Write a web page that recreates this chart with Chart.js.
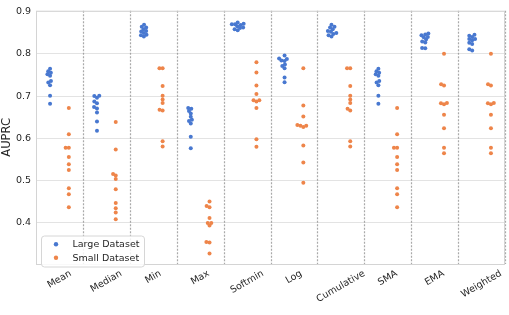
<!DOCTYPE html>
<html lang="en">
<head>
    <meta charset="UTF-8">
    <title>AUPRC swarm</title>
    <script src="https://cdn.jsdelivr.net/npm/chart.js"></script>
    <style>
        body { margin: 0; background: #fff; }
        #wrap { width: 509px; height: 315px; position: relative; }
    </style>
</head>
<body>
    <div id="wrap"><canvas id="chart"></canvas></div>

    <script>
        const categories = ['Mean', 'Median', 'Min', 'Max', 'Softmin', 'Log', 'Cumulative', 'SMA', 'EMA', 'Weighted'];
        const seriesNames = ['Large Dataset', 'Small Dataset'];
        const yTicks = [0.4, 0.5, 0.6, 0.7, 0.8, 0.9];

        // values, one inner array per category
        const largeValues = [
            [0.765, 0.759, 0.755, 0.752, 0.748, 0.736, 0.732, 0.726, 0.701, 0.682],
            [0.701, 0.700, 0.696, 0.687, 0.683, 0.674, 0.671, 0.661, 0.640, 0.618],
            [0.869, 0.864, 0.862, 0.858, 0.854, 0.853, 0.849, 0.845, 0.844, 0.841],
            [0.672, 0.670, 0.665, 0.659, 0.651, 0.644, 0.641, 0.635, 0.604, 0.577],
            [0.874, 0.871, 0.870, 0.870, 0.868, 0.865, 0.862, 0.861, 0.858, 0.856],
            [0.796, 0.789, 0.788, 0.784, 0.783, 0.775, 0.771, 0.766, 0.744, 0.733],
            [0.869, 0.864, 0.862, 0.858, 0.854, 0.852, 0.849, 0.847, 0.844, 0.841],
            [0.765, 0.759, 0.755, 0.752, 0.748, 0.736, 0.732, 0.726, 0.701, 0.682],
            [0.848, 0.846, 0.844, 0.840, 0.839, 0.834, 0.829, 0.827, 0.814, 0.813],
            [0.845, 0.843, 0.840, 0.835, 0.835, 0.832, 0.826, 0.823, 0.811, 0.808]
        ];
        const smallValues = [
            [0.672, 0.610, 0.578, 0.578, 0.556, 0.539, 0.525, 0.482, 0.468, 0.437],
            [0.639, 0.574, 0.516, 0.512, 0.504, 0.480, 0.447, 0.435, 0.425, 0.409],
            [0.766, 0.766, 0.724, 0.701, 0.692, 0.684, 0.668, 0.666, 0.593, 0.581],
            [0.451, 0.440, 0.437, 0.412, 0.400, 0.400, 0.394, 0.355, 0.354, 0.328],
            [0.780, 0.756, 0.725, 0.705, 0.690, 0.690, 0.687, 0.672, 0.598, 0.580],
            [0.766, 0.678, 0.652, 0.632, 0.630, 0.630, 0.627, 0.583, 0.543, 0.495],
            [0.766, 0.766, 0.724, 0.701, 0.692, 0.684, 0.670, 0.666, 0.593, 0.581],
            [0.672, 0.610, 0.578, 0.578, 0.556, 0.539, 0.525, 0.482, 0.468, 0.437],
            [0.800, 0.728, 0.725, 0.684, 0.683, 0.681, 0.656, 0.624, 0.578, 0.565],
            [0.800, 0.728, 0.725, 0.684, 0.683, 0.681, 0.656, 0.624, 0.578, 0.565]
        ];

        const colors = ['#4878d0', '#ee854a'];
        const FONT = "'DejaVu Sans', sans-serif";

        // beeswarm layout: pixels per unit on each axis, dot spacing in px
        const pxPerY = 443, pxPerCat = 47.1, dotGap = 3.2;

        function swarm(values, center) {
            const placed = [];
            values.slice().sort((a, b) => a - b).forEach(v => {
                const py = v * pxPerY;
                const cands = [0];
                placed.forEach(p => {
                    const dy = Math.abs(p.py - py);
                    if (dy < dotGap) {
                        const off = Math.sqrt(dotGap * dotGap - dy * dy);
                        cands.push(p.px - off, p.px + off);
                    }
                });
                cands.sort((a, b) => Math.abs(a) - Math.abs(b));
                const px = cands.find(c => placed.every(p =>
                    (p.px - c) ** 2 + (p.py - py) ** 2 >= dotGap * dotGap - 1e-6));
                placed.push({ px: px, py: py, v: v });
            });
            return placed.map(p => ({ x: center + p.px / pxPerCat, y: p.v }));
        }

        function buildPoints(allValues, dodge) {
            let pts = [];
            allValues.forEach((vals, i) => { pts = pts.concat(swarm(vals, i + dodge)); });
            return pts;
        }

        const extras = {
            id: 'extras',
            beforeDatasetsDraw(chart) {
                const { ctx, chartArea: a, scales: { x } } = chart;
                ctx.save();
                ctx.strokeStyle = 'rgba(140,140,140,0.75)';
                ctx.lineWidth = 1.2;
                ctx.setLineDash([2, 1.5]);
                for (let i = 0; i < categories.length; i++) {
                    const px = Math.round(x.getPixelForValue(i + 0.5)) + 0.5;
                    ctx.beginPath();
                    ctx.moveTo(px, a.top);
                    ctx.lineTo(px, a.bottom);
                    ctx.stroke();
                }
                ctx.setLineDash([]);
                ctx.strokeStyle = '#d4d4d4';
                ctx.lineWidth = 1;
                ctx.strokeRect(a.left + 0.5, a.top + 0.5, a.right - a.left - 1, a.bottom - a.top);
                ctx.restore();
            },
            afterDraw(chart) {
                const { ctx, chartArea: a, scales: { x } } = chart;
                ctx.save();
                // rotated category labels, centred under each slot
                ctx.font = '9.5px ' + FONT;
                ctx.fillStyle = '#262626';
                ctx.textAlign = 'center';
                ctx.textBaseline = 'middle';
                const ang = 30 * Math.PI / 180;
                categories.forEach((c, i) => {
                    const w = ctx.measureText(c).width;
                    const h = w * Math.sin(ang) + 9 * Math.cos(ang);
                    ctx.save();
                    ctx.translate(x.getPixelForValue(i), a.bottom + 5 + h / 2);
                    ctx.rotate(-ang);
                    ctx.fillText(c, 0, 0);
                    ctx.restore();
                });

                // legend box in the lower left corner
                const lx = 41.5, ly = 236, lw = 103, lh = 31;
                ctx.beginPath();
                ctx.roundRect(lx, ly, lw, lh, 3);
                ctx.fillStyle = 'rgba(255,255,255,0.85)';
                ctx.fill();
                ctx.strokeStyle = '#d6d6d6';
                ctx.lineWidth = 1;
                ctx.stroke();
                seriesNames.forEach((name, i) => {
                    const yy = ly + 8.3 + i * 13.4;
                    ctx.beginPath();
                    ctx.arc(lx + 14.5, yy, 2.2, 0, Math.PI * 2);
                    ctx.fillStyle = colors[i];
                    ctx.fill();
                    ctx.fillStyle = '#262626';
                    ctx.textAlign = 'left';
                    ctx.fillText(name, lx + 31, yy + 0.5);
                });
                ctx.restore();
            }
        };

        new Chart(document.getElementById('chart'), {
            type: 'scatter',
            data: {
                datasets: [
                    { label: seriesNames[0], data: buildPoints(largeValues, -0.2), backgroundColor: colors[0], borderWidth: 0, pointRadius: 2 },
                    { label: seriesNames[1], data: buildPoints(smallValues, 0.2), backgroundColor: colors[1], borderWidth: 0, pointRadius: 2 }
                ]
            },
            options: {
                responsive: true,
                maintainAspectRatio: false,
                animation: false,
                layout: { padding: { top: 5, right: 2, bottom: 43, left: 0 } },
                plugins: { legend: { display: false }, tooltip: { enabled: false } },
                scales: {
                    x: {
                        type: 'linear', min: -0.5, max: 9.5,
                        grid: { display: false },
                        border: { display: false },
                        ticks: { display: false }
                    },
                    y: {
                        min: 0.303, max: 0.902,
                        afterFit: s => { s.width = 36; },
                        afterBuildTicks: s => { s.ticks = yTicks.map(v => ({ value: v })); },
                        grid: { color: '#e3e3e3', drawTicks: false },
                        border: { display: false },
                        ticks: {
                            padding: 5, color: '#262626',
                            font: { family: FONT, size: 9.5 },
                            callback: v => v.toFixed(1)
                        },
                        title: {
                            display: true, text: 'AUPRC', color: '#262626',
                            font: { family: FONT, size: 11.5 }, padding: { top: 0, bottom: 2 }
                        }
                    }
                }
            },
            plugins: [extras]
        });
    </script>
</body>
</html>
